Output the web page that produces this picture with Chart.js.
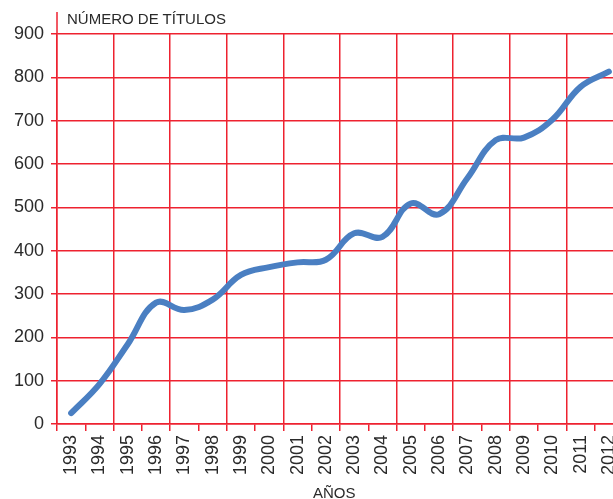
<!DOCTYPE html>
<html>
<head>
<meta charset="utf-8">
<script src="https://cdn.jsdelivr.net/npm/chart.js@4/dist/chart.umd.min.js"></script>
<style>
  html, body { margin: 0; padding: 0; background: #fff; overflow: hidden; width: 613px; height: 499px; }
  #wrap { position: absolute; left: 0; top: 0; width: 640px; height: 499px; }
  .lbl { position: absolute; font-family: "Liberation Sans", Arial, sans-serif; color: #2a2a2a; white-space: nowrap; }
</style>
</head>
<body>
<div id="wrap"><canvas id="c"></canvas></div>
<div class="lbl" style="left:67px; top:10px; font-size:15px;">NÚMERO DE TÍTULOS</div>
<div class="lbl" style="left:313px; top:484px; font-size:15px;">AÑOS</div>
<script>
const years = ["1993","1994","1995","1996","1997","1998","1999","2000","2001","2002",
               "2003","2004","2005","2006","2007","2008","2009","2010","2011","2012"];
const titles = [25, 92, 184, 280, 263, 287, 344, 362, 373, 379,
                440, 432, 509, 484, 567, 655, 661, 702, 778, 813];
const yMin = 0, yMax = 900, yStep = 100;

const RED = '#ee2230';

const axisExtend = {
  id: 'axisExtend',
  afterDraw(chart) {
    const { ctx, chartArea } = chart;
    ctx.save();
    ctx.strokeStyle = RED;
    ctx.lineWidth = 1.5;
    ctx.beginPath();
    ctx.moveTo(chartArea.left, 12);
    ctx.lineTo(chartArea.left, chartArea.top);
    ctx.stroke();
    ctx.restore();
  }
};

new Chart(document.getElementById('c'), {
  type: 'line',
  data: {
    labels: years,
    datasets: [{
      data: titles,
      borderColor: '#4a7fc2',
      borderWidth: 6,
      borderCapStyle: 'round',
      borderJoinStyle: 'round',
      pointRadius: 0,
      tension: 0.4,
      fill: false
    }]
  },
  options: {
    responsive: true,
    maintainAspectRatio: false,
    animation: false,
    devicePixelRatio: 1,
    layout: { padding: { top: 34, right: 17, bottom: 0, left: 0 } },
    plugins: { legend: { display: false }, title: { display: false }, tooltip: { enabled: false } },
    scales: {
      x: {
        type: 'category',
        offset: true,
        afterFit(s) { s.height = 75; },
        grid: {
          offset: true,
          drawOnChartArea: true,
          tickLength: 7,
          lineWidth: 1.5,
          color: (c) => (c.index !== undefined && c.index % 2 === 0) ? RED : 'rgba(0,0,0,0)',
          tickColor: RED
        },
        border: { display: true, color: RED, width: 1.5 },
        ticks: {
          minRotation: 90, maxRotation: 90, autoSkip: false, padding: 4,
          color: '#2a2a2a',
          font: { family: '"Liberation Sans", Arial, sans-serif', size: 18 }
        }
      },
      y: {
        min: yMin, max: yMax,
        afterFit(s) { s.width = 57; },
        grid: { color: RED, lineWidth: 1.5, tickLength: 6, tickColor: RED },
        border: { display: true, color: RED, width: 1.5 },
        ticks: {
          stepSize: yStep, padding: 7,
          color: '#2a2a2a',
          font: { family: '"Liberation Sans", Arial, sans-serif', size: 18 }
        }
      }
    }
  },
  plugins: [axisExtend]
});
</script>
</body>
</html>
